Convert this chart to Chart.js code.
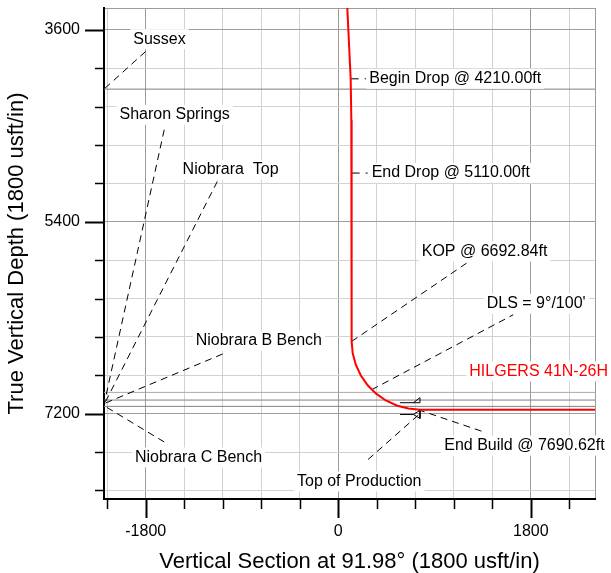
<!DOCTYPE html>
<html><head><meta charset="utf-8">
<script src="https://cdn.jsdelivr.net/npm/chart.js@4.4.1/dist/chart.umd.min.js"></script>
<style>html,body{margin:0;padding:0;background:#fff;overflow:hidden}</style>
</head><body>
<canvas id="c" width="611" height="573" style="width:611px;height:573px;display:block"></canvas>
<script>
// ---- axis ranges and ticks ----
const xMin = -2190, xMax = 2400;
const yMin = 3395, yMax = 8000;
const xTickValues = [-2160, -1800, -1440, -1080, -720, -360, 0, 360, 720, 1080, 1440, 1800, 2160];
const yTickValues = [3600, 3960, 4320, 4680, 5040, 5400, 5760, 6120, 6480, 6840, 7200, 7560, 7920];
const xTickLabels = ['-1800', '0', '1800'];
const yTickLabels = ['3600', '5400', '7200'];
const majorStep = 1800;

// ---- well path (Vertical Section, TVD) ----
const wellVS  = [80, 116, 122, 125, 125, 135, 164, 211, 275, 354, 445, 546, 654, 765, 2400];
const wellTVD = [3300, 4059, 4443, 4940, 6522, 6633, 6741, 6842, 6933, 7012, 7076, 7123, 7152, 7162, 7163];
const wellName = 'HILGERS 41N-26H';
const wellNameVS = 1225, wellNameTVD = 6803;

// ---- formation top lines ----
const formationLineTVD = [4156, 7000, 7072, 7131];

// ---- formation labels and leaders ----
const formationNames = ['Sussex', 'Sharon Springs', 'Niobrara  Top', 'Niobrara B Bench', 'Niobrara C Bench'];
const formationLabelVS  = [-1917, -2045, -1455, -1333, -1901];
const formationLabelTVD = [3687, 4397, 4912, 6516, 7610];
const formationLeaderFromVS  = [-1801, -1627, -1131, -1081, -1627];
const formationLeaderFromTVD = [3803, 4537, 5022, 6640, 7465];
const formationLeaderToVS  = [-2190, -2190, -2190, -2190, -2190];
const formationLeaderToTVD = [4156, 7116, 7116, 7106, 7125];

// ---- well annotations ----
const annotationText = ['Begin Drop @ 4210.00ft', 'End Drop @ 5110.00ft', 'KOP @ 6692.84ft', "DLS = 9°/100'", 'End Build @ 7690.62ft', 'Top of Production'];
const annotationLabelVS  = [290, 312, 780, 1388, 991, -386];
const annotationLabelTVD = [4059, 4943, 5678, 6169, 7500, 7835];
const annotationFromVS  = [116, 125, 125, 312, 745, 748];
const annotationFromTVD = [4059, 4943, 6522, 6975, 7162, 7213];
const annotationToVS  = [259, 275, 1201, 1636, 1372, 259];
const annotationToTVD = [4059, 4943, 5787, 6272, 7375, 7647];

// ---- target markers ----
const markerUpperVS  = [577, 764, 764, 701];
const markerUpperTVD = [7097, 7097, 7050, 7097];
const markerLowerVS  = [577, 701, 764, 764, 701];
const markerLowerTVD = [7207, 7207, 7169, 7244, 7207];

const FONT = "'Liberation Sans', Arial, sans-serif";

function pts(xs, ys) { return xs.map((x, i) => ({x: x, y: ys[i]})); }

const datasets = [];
datasets.push({data: pts(wellVS, wellTVD), borderColor: '#ff0000', borderWidth: 2, showLine: true, pointRadius: 0, tension: 0});
datasets.push({data: pts(markerUpperVS, markerUpperTVD), borderColor: '#000', borderWidth: 1, showLine: true, pointRadius: 0});
datasets.push({data: pts(markerLowerVS, markerLowerTVD), borderColor: '#000', borderWidth: 1, showLine: true, pointRadius: 0});
for (let i = 0; i < annotationText.length; i++) {
  const short = i < 2;
  datasets.push({data: [{x: annotationFromVS[i], y: annotationFromTVD[i]}, {x: annotationToVS[i], y: annotationToTVD[i]}],
    borderColor: '#000', borderWidth: 1, borderDash: short ? [8, 6] : [7, 5], showLine: true, pointRadius: 0});
}
for (let i = 0; i < formationNames.length; i++) {
  datasets.push({data: [{x: formationLeaderFromVS[i], y: formationLeaderFromTVD[i]}, {x: formationLeaderToVS[i], y: formationLeaderToTVD[i]}],
    borderColor: '#000', borderWidth: 1, borderDash: [7, 5], showLine: true, pointRadius: 0});
}
formationLineTVD.forEach((d, i) => {
  datasets.push({data: [{x: xMin, y: d}, {x: xMax, y: d}], borderColor: i === 1 ? '#a8a8a8' : '#808080', borderWidth: 1, showLine: true, pointRadius: 0});
});

function isMajor(v) { return Math.abs(v / majorStep - Math.round(v / majorStep)) < 1e-6; }
function isEdge(scale, v) { return v === scale.min || v === scale.max; }
function gridColor(ctx) {
  const v = ctx.tick.value;
  if (isEdge(ctx.scale, v)) return '#9c9c9c';
  if (isMajor(v)) return '#9c9c9c';
  return '#d2d2d2';
}
function setTicks(values) {
  return function (scale) {
    scale.ticks = [scale.min].concat(values).concat([scale.max]).map(v => ({value: v}));
  };
}
function labelFor(labels) {
  return function (v) {
    const s = String(v);
    return labels.indexOf(s) >= 0 ? s : '';
  };
}
function noPad(s) { s.paddingTop = 0; s.paddingBottom = 0; s.paddingLeft = 0; s.paddingRight = 0; }

const overlay = {
  id: 'overlay',
  afterDatasetsDraw(chart) {
    const c = chart.ctx, xs = chart.scales.x, ys = chart.scales.y;
    c.save();
    c.font = '16px ' + FONT;
    c.textBaseline = 'middle';
    c.textAlign = 'left';
    const items = [];
    formationNames.forEach((t, i) => items.push([t, formationLabelVS[i], formationLabelTVD[i], '#000']));
    annotationText.forEach((t, i) => items.push([t, annotationLabelVS[i], annotationLabelTVD[i], '#000']));
    items.push([wellName, wellNameVS, wellNameTVD, '#ff0000']);
    items.forEach(([t, vx, vy, col]) => {
      const px = xs.getPixelForValue(vx), py = ys.getPixelForValue(vy);
      const w = c.measureText(t).width;
      c.fillStyle = '#fff';
      c.fillRect(px - 3, py - 10, w + 6, 20);
      c.fillStyle = col;
      c.fillText(t, px, py);
    });
    c.restore();
  },
  afterDraw(chart) {
    const c = chart.ctx, xs = chart.scales.x, ys = chart.scales.y, a = chart.chartArea;
    c.save();
    c.strokeStyle = '#000';
    xTickValues.forEach(v => {
      const major = isMajor(v);
      const px = Math.round(xs.getPixelForValue(v)) + 0.5;
      c.lineWidth = major ? 2 : 1.5;
      c.beginPath(); c.moveTo(px, a.bottom); c.lineTo(px, a.bottom + (major ? 19 : 10)); c.stroke();
    });
    yTickValues.forEach(v => {
      const major = isMajor(v);
      const py = Math.round(ys.getPixelForValue(v)) + 0.5;
      c.lineWidth = major ? 2 : 1.5;
      c.beginPath(); c.moveTo(a.left, py); c.lineTo(a.left - (major ? 19 : 9), py); c.stroke();
    });
    c.restore();
  }
};

new Chart(document.getElementById('c'), {
  type: 'scatter',
  data: {datasets: datasets},
  options: {
    responsive: false, animation: false, devicePixelRatio: 1,
    layout: {padding: {top: 8, right: 16, left: 0, bottom: 0}},
    plugins: {legend: {display: false}, tooltip: {enabled: false}},
    scales: {
      x: {
        type: 'linear', position: 'bottom', min: xMin, max: xMax,
        afterBuildTicks: setTicks(xTickValues),
        afterFit(s) { s.height = 74; noPad(s); },
        grid: {color: gridColor, lineWidth: 1, drawTicks: false},
        border: {color: '#000', width: 2},
        ticks: {autoSkip: false, maxRotation: 0, padding: 23, color: '#000',
          font: {family: FONT, size: 16}, callback: labelFor(xTickLabels)},
        title: {display: true, text: 'Vertical Section at 91.98° (1800 usft/in)', color: '#000',
          font: {family: FONT, size: 22, lineHeight: 1}, padding: {top: 0, bottom: 0}}
      },
      y: {
        type: 'linear', position: 'left', reverse: true, min: yMin, max: yMax,
        afterBuildTicks: setTicks(yTickValues),
        afterFit(s) { s.width = 104; noPad(s); },
        grid: {color: gridColor, lineWidth: 1, drawTicks: false},
        border: {color: '#000', width: 2},
        ticks: {autoSkip: false, padding: 24, color: '#000',
          font: {family: FONT, size: 16}, callback: labelFor(yTickLabels)},
        title: {display: true, text: 'True Vertical Depth (1800 usft/in)', color: '#000',
          font: {family: FONT, size: 22}, padding: {top: 4, bottom: 0}}
      }
    }
  },
  plugins: [overlay]
});
</script>
</body></html>
